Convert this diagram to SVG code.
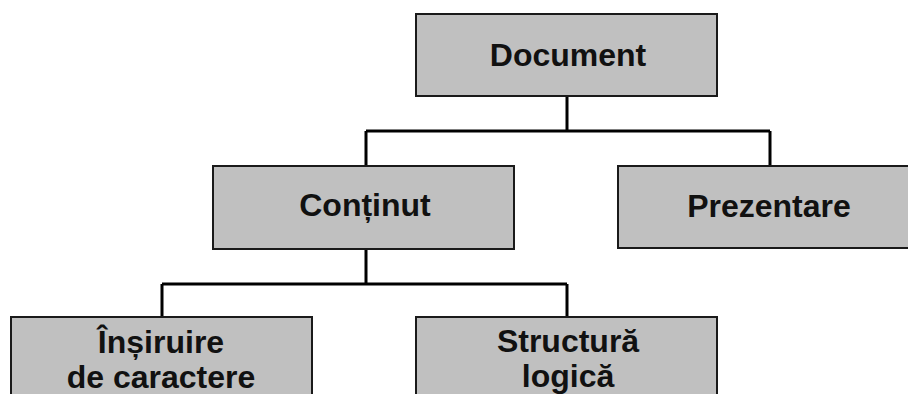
<svg xmlns="http://www.w3.org/2000/svg" width="908" height="394" viewBox="0 0 908 394">
<style>
.box{fill:#c0c0c0;stroke:#1a1a1a;stroke-width:2}
.lbl{font-family:"Liberation Sans",Arial,sans-serif;font-weight:bold;font-size:32px;fill:#111;text-anchor:middle}
.con{fill:none;stroke:#000;stroke-width:3}
</style>
<rect width="908" height="394" fill="#fff"/>
<g id="connectors">
<path class="con" d="M567 96V131M366 131H770M366 131V166M770 131V166"/>
<path class="con" d="M366 249V284M162 284H567M162 284V317M567 284V317"/>
</g>
<g id="document">
<rect class="box" x="416" y="14" width="301" height="82"/>
<text class="lbl" x="568" y="66">Document</text>
</g>
<g id="continut">
<rect class="box" x="213" y="166" width="301" height="83"/>
<text class="lbl" x="365" y="216">Conținut</text>
</g>
<g id="prezentare">
<rect class="box" x="618" y="166" width="301" height="82"/>
<text class="lbl" x="769" y="217">Prezentare</text>
</g>
<g id="insiruire">
<rect class="box" x="11" y="317" width="301" height="90"/>
<text class="lbl" x="161" y="353">Înșiruire</text>
<text class="lbl" x="161" y="388">de caractere</text>
</g>
<g id="structura">
<rect class="box" x="416" y="317" width="301" height="90"/>
<text class="lbl" x="568" y="352">Structură</text>
<text class="lbl" x="568" y="387">logică</text>
</g>
</svg>
